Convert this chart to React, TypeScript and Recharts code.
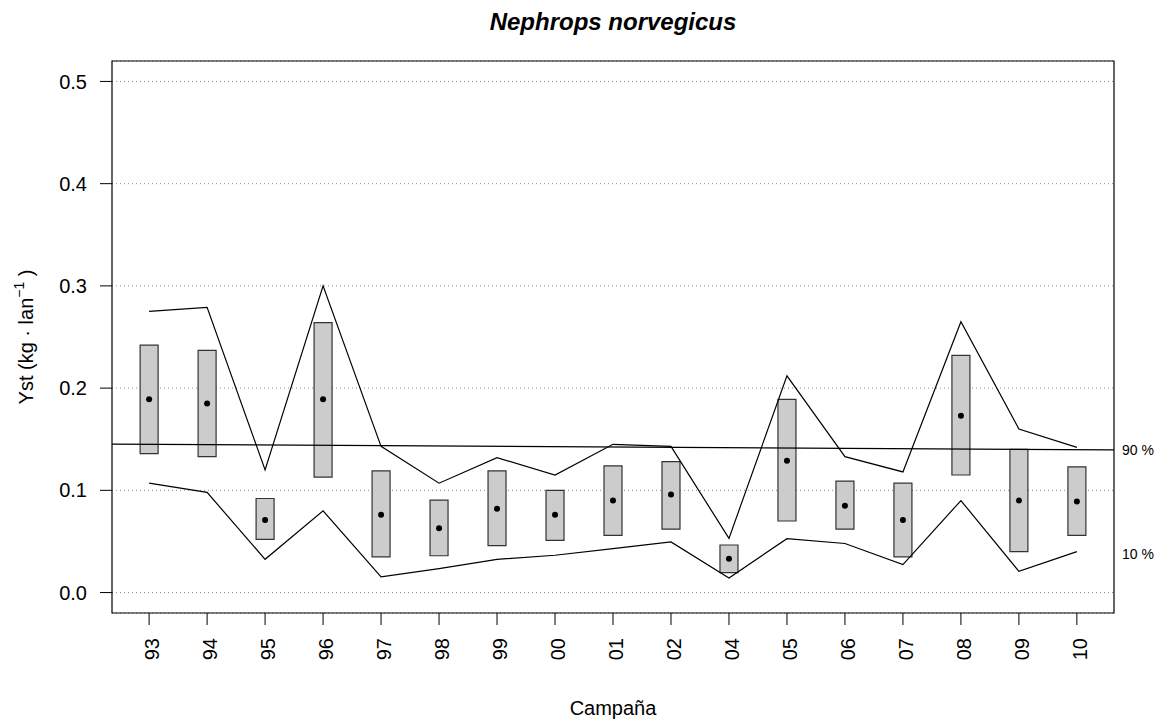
import { ComposedChart, Bar, Line, Scatter, XAxis, YAxis, CartesianGrid, ReferenceLine, ReferenceArea } from 'recharts'

const campaigns = ['93', '94', '95', '96', '97', '98', '99', '00', '01', '02', '04', '05', '06', '07', '08', '09', '10']
const boxLow = [0.136, 0.133, 0.052, 0.113, 0.035, 0.036, 0.046, 0.051, 0.056, 0.062, 0.0195, 0.07, 0.062, 0.035, 0.115, 0.04, 0.056]
const boxHigh = [0.242, 0.237, 0.092, 0.264, 0.119, 0.0905, 0.119, 0.1, 0.124, 0.128, 0.0465, 0.189, 0.109, 0.107, 0.232, 0.14, 0.123]
const means = [0.189, 0.185, 0.071, 0.189, 0.076, 0.063, 0.082, 0.076, 0.09, 0.096, 0.033, 0.129, 0.085, 0.071, 0.173, 0.09, 0.089]
const upper = [0.275, 0.279, 0.12, 0.3, 0.143, 0.107, 0.132, 0.115, 0.145, 0.143, 0.053, 0.212, 0.133, 0.118, 0.265, 0.16, 0.142]
const lower = [0.107, 0.098, 0.0325, 0.08, 0.0153, 0.0234, 0.0325, 0.0365, 0.043, 0.0495, 0.0143, 0.0527, 0.048, 0.0273, 0.09, 0.0208, 0.04]
const yTicks = [0, 0.1, 0.2, 0.3, 0.4, 0.5]
// 90% reference line: value at left and right edge of the plot
const q90 = [0.1452, 0.1396]
const q10Label = 0.038

const xDomain = [0.36, 17.64]
const yDomain = [-0.02, 0.52]

const rows = campaigns.map((c, i) => ({
  x: i + 1,
  box: [boxLow[i], boxHigh[i]],
  mean: means[i],
  upper: upper[i],
  lower: lower[i],
}))

const font = '"Liberation Sans", Arial, sans-serif'

function XTick(props: any) {
  const { x, y, payload } = props
  return (
    <g transform={`translate(${x},${y}) rotate(-90)`}>
      <text x={0} y={10} textAnchor="end" fontSize={20} fontFamily={font} fill="#000">
        {campaigns[payload.value - 1]}
      </text>
    </g>
  )
}

function MeanDot(props: any) {
  return <circle cx={props.cx} cy={props.cy} r={3} fill="#000" />
}

export default function App() {
  return (
    <div style={{ position: 'relative', width: 1162, height: 722, background: '#fff' }}>
      <style>{'body{margin:0}'}</style>
      <ComposedChart width={1162} height={722} data={rows} margin={{ top: 61, right: 48, left: 0, bottom: 0 }}>
        <CartesianGrid vertical={false} stroke="#8a8a8a" strokeDasharray="1 3" />
        <XAxis
          type="number"
          dataKey="x"
          domain={xDomain}
          ticks={campaigns.map((_, i) => i + 1)}
          allowDataOverflow
          height={109}
          axisLine={false}
          tickSize={12}
          tickMargin={13}
          tickLine={{ stroke: '#000' }}
          tick={<XTick />}
          interval={0}
        />
        <YAxis
          type="number"
          domain={yDomain}
          ticks={yTicks}
          allowDataOverflow
          width={112}
          axisLine={false}
          tickSize={12}
          tickMargin={13}
          tickLine={{ stroke: '#000' }}
          tickFormatter={(v: number) => v.toFixed(1)}
          tick={{ fontSize: 20, fontFamily: font, fill: '#000' }}
          interval={0}
        />
        <Bar dataKey="box" fill="#cccccc" stroke="#333333" strokeWidth={1.2} barSize={18} isAnimationActive={false} />
        <Line dataKey="upper" stroke="#000" strokeWidth={1.2} dot={false} isAnimationActive={false} />
        <Line dataKey="lower" stroke="#000" strokeWidth={1.2} dot={false} isAnimationActive={false} />
        <Scatter dataKey="mean" data={rows} shape={<MeanDot />} isAnimationActive={false} />
        <ReferenceLine
          segment={[{ x: xDomain[0], y: q90[0] }, { x: xDomain[1], y: q90[1] }]}
          stroke="#000"
          strokeWidth={1.2}
          ifOverflow="visible"
        />
        <ReferenceLine
          y={q90[1]}
          stroke="none"
          label={{ value: '90 %', position: 'right', offset: 8, fontSize: 14, fontFamily: font, fill: '#000' }}
        />
        <ReferenceLine
          y={q10Label}
          stroke="none"
          label={{ value: '10 %', position: 'right', offset: 8, fontSize: 14, fontFamily: font, fill: '#000' }}
        />
        <ReferenceArea x1={xDomain[0]} x2={xDomain[1]} y1={yDomain[0]} y2={yDomain[1]} fill="none" stroke="#000" strokeWidth={1.2} ifOverflow="visible" />
      </ComposedChart>
      <svg width={1162} height={722} style={{ position: 'absolute', left: 0, top: 0, pointerEvents: 'none' }}>
        <text x={613} y={30} textAnchor="middle" fontSize={24} fontWeight="bold" fontStyle="italic" fontFamily={font} fill="#000">
          Nephrops norvegicus
        </text>
        <text x={613} y={715} textAnchor="middle" fontSize={20} fontFamily={font} fill="#000">
          Campaña
        </text>
        <g transform="translate(33,337) rotate(-90)">
          <text x={0} y={0} textAnchor="middle" fontSize={20} fontFamily={font} fill="#000">
            Yst (kg · lan
            <tspan fontSize={14} dy={-9}>−1</tspan>
            <tspan dy={9}> )</tspan>
          </text>
        </g>
      </svg>
    </div>
  )
}
